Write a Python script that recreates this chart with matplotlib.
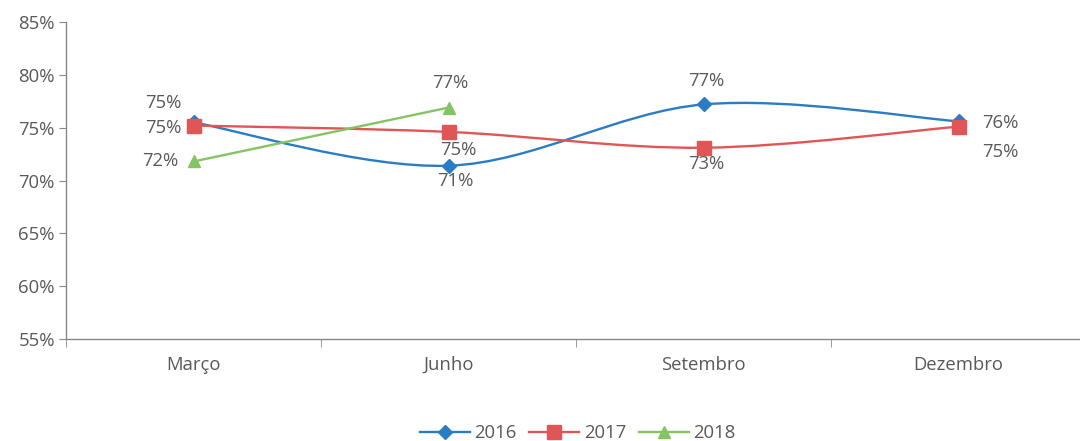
import numpy as np
import matplotlib.pyplot as plt
from matplotlib.path import Path
from matplotlib.patches import PathPatch
from matplotlib.lines import Line2D

plt.rcParams['font.family'] = ['Open Sans', 'DejaVu Sans']

# data
meses = ['Março', 'Junho', 'Setembro', 'Dezembro']
v2016 = [75.5, 71.4, 77.2, 75.6]
v2017 = [75.2, 74.6, 73.1, 75.1]
v2018 = [71.8, 76.9]
rot2016 = ['75%', '71%', '77%', '76%']
rot2017 = ['75%', '75%', '73%', '75%']
rot2018 = ['72%', '77%']

cor16 = '#2a7cc4'
cor17 = '#e05656'
cor18 = '#84c464'
cinza = '#595959'
lw = 1.7


def curva_suave(ax, xs, ys, cor, t=0.5):
    # cardinal spline through the points (like Excel "smoothed line")
    xs = np.asarray(xs, float)
    ys = np.asarray(ys, float)
    n = len(xs)
    verts = [(xs[0], ys[0])]
    codes = [Path.MOVETO]
    for i in range(n - 1):
        p0 = (xs[max(i - 1, 0)], ys[max(i - 1, 0)])
        p1 = (xs[i], ys[i])
        p2 = (xs[i + 1], ys[i + 1])
        p3 = (xs[min(i + 2, n - 1)], ys[min(i + 2, n - 1)])
        c1 = (p1[0] + (p2[0] - p0[0]) * t / 3, p1[1] + (p2[1] - p0[1]) * t / 3)
        c2 = (p2[0] - (p3[0] - p1[0]) * t / 3, p2[1] - (p3[1] - p1[1]) * t / 3)
        verts += [c1, c2, p2]
        codes += [Path.CURVE4] * 3
    ax.add_patch(PathPatch(Path(verts, codes), fill=False, edgecolor=cor,
                           lw=lw, zorder=2))


fig = plt.figure(figsize=(10.8, 4.41), dpi=100)
ax = fig.add_axes([66 / 1080, 1 - 339 / 441, 1020 / 1080, 317 / 441])

x = np.arange(len(meses))
curva_suave(ax, x, v2016, cor16)
curva_suave(ax, x, v2017, cor17)
ax.plot(x[:2], v2018, color=cor18, lw=lw, zorder=2)

ax.plot(x, v2016, ls='none', marker='D', ms=7, color=cor16, zorder=3)
ax.plot(x, v2017, ls='none', marker='s', ms=10, color=cor17, zorder=3)
ax.plot(x[:2], v2018, ls='none', marker='^', ms=9, color=cor18, zorder=3)

fs = 13.3
kw = dict(fontsize=fs, color=cinza, textcoords='offset points', ha='center', va='center')
# 2016 labels
ax.annotate(rot2016[0], (x[0], v2016[0]), xytext=(-22, 14), **kw)
ax.annotate(rot2016[1], (x[1], v2016[1]), xytext=(5, -11), **kw)
ax.annotate(rot2016[2], (x[2], v2016[2]), xytext=(2, 17), **kw)
ax.annotate(rot2016[3], (x[3], v2016[3]), xytext=(30, -1), **kw)
# 2017 labels
ax.annotate(rot2017[0], (x[0], v2017[0]), xytext=(-22, -2), **kw)
ax.annotate(rot2017[1], (x[1], v2017[1]), xytext=(7, -13), **kw)
ax.annotate(rot2017[2], (x[2], v2017[2]), xytext=(2, -12), **kw)
ax.annotate(rot2017[3], (x[3], v2017[3]), xytext=(30, -18), **kw)
# 2018 labels
ax.annotate(rot2018[0], (x[0], v2018[0]), xytext=(-24, 0), **kw)
ax.annotate(rot2018[1], (x[1], v2018[1]), xytext=(1, 18), **kw)

ax.set_xlim(-0.5, 3.5)
ax.set_ylim(55, 85)
ax.set_yticks(np.arange(55, 86, 5))
ax.set_yticklabels([f'{v}%' for v in range(55, 86, 5)])
ax.set_xticks(x)
ax.set_xticklabels(meses)
ax.set_xticks(np.arange(-0.5, 3.6, 1), minor=True)
ax.tick_params(axis='x', which='major', length=0, pad=12, labelsize=fs, labelcolor=cinza)
ax.tick_params(axis='x', which='minor', length=6, color='#888888')
ax.tick_params(axis='y', length=5, color='#888888', labelsize=fs, labelcolor=cinza, pad=3)

for s in ['top', 'right']:
    ax.spines[s].set_visible(False)
for s in ['left', 'bottom']:
    ax.spines[s].set_color('#888888')
    ax.spines[s].set_linewidth(1)

handles = [
    Line2D([], [], color=cor16, lw=lw, marker='D', ms=7),
    Line2D([], [], color=cor17, lw=lw, marker='s', ms=10),
    Line2D([], [], color=cor18, lw=lw, marker='^', ms=9),
]
fig.legend(handles, ['2016', '2017', '2018'], loc='center', bbox_to_anchor=(0.535, 1 - 433 / 441),
           ncol=3, frameon=False, fontsize=fs, labelcolor=cinza, handlelength=2.7,
           columnspacing=0.7, handletextpad=0.25)

fig.savefig('out.png', dpi=100)
